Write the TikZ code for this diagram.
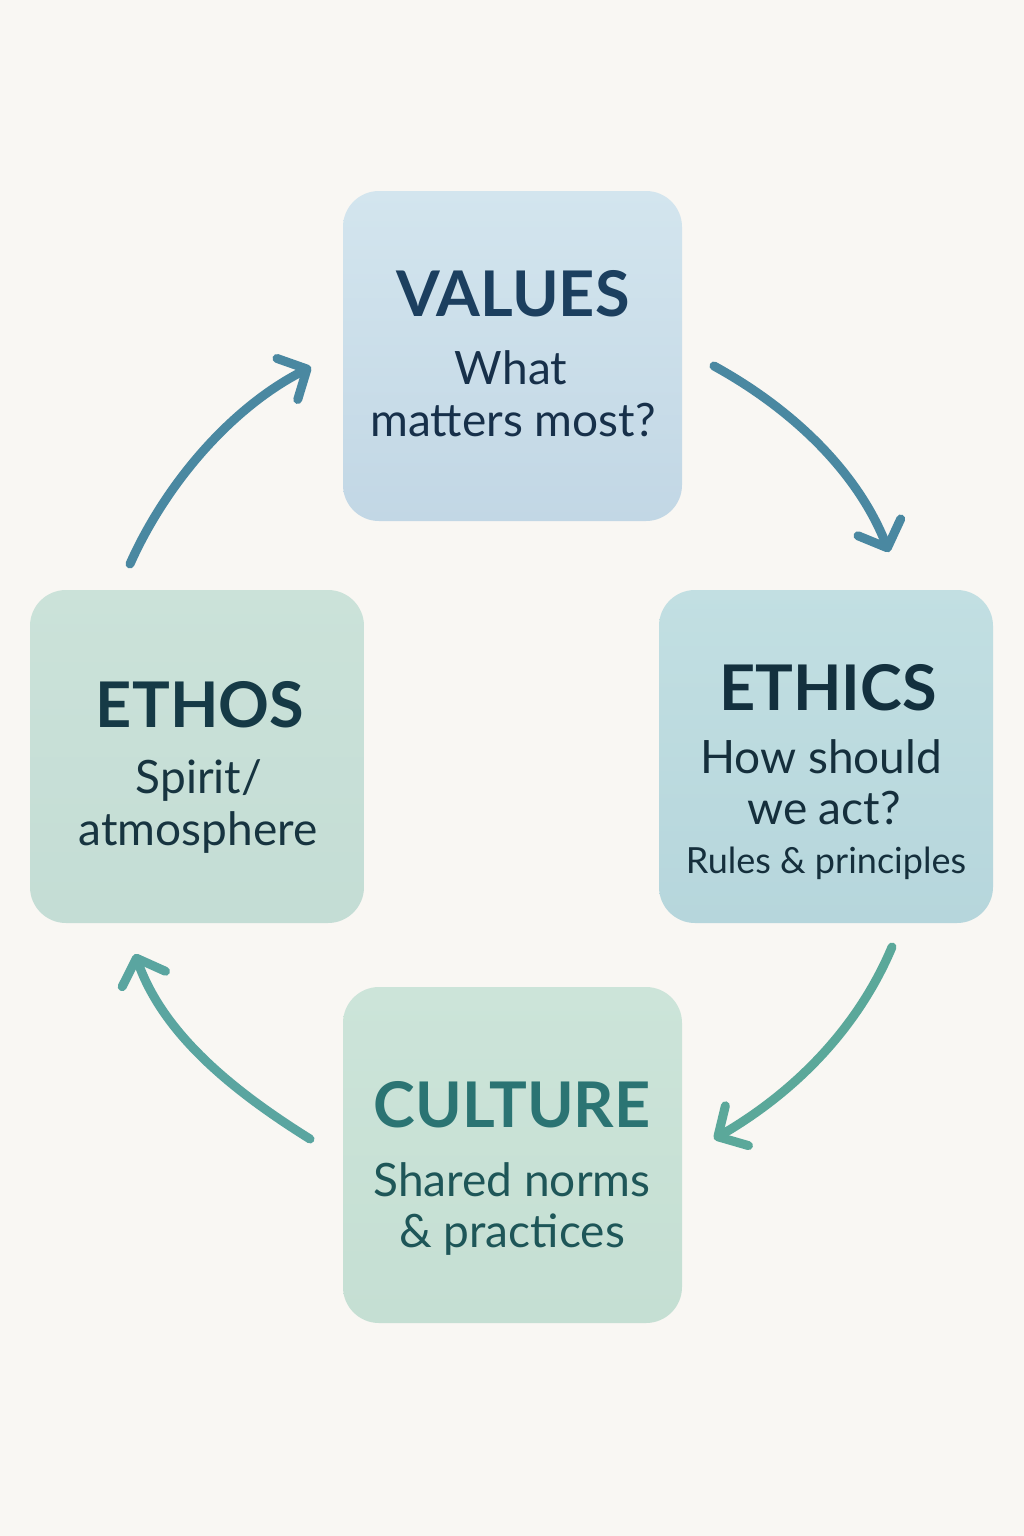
\documentclass[tikz,border=0pt]{standalone}
\usepackage{fontspec}
\setmainfont{Lato}
\usetikzlibrary{arrows.meta}
\definecolor{bg}{HTML}{F9F7F3}
\definecolor{valtop}{HTML}{D3E5EE}
\definecolor{valbot}{HTML}{C2D7E5}
\definecolor{valttl}{HTML}{1C3F5F}
\definecolor{valsub}{HTML}{17304A}
\definecolor{ethtop}{HTML}{C2DFE2}
\definecolor{ethbot}{HTML}{B6D6DC}
\definecolor{ethttl}{HTML}{13303E}
\definecolor{ethsub}{HTML}{152F3C}
\definecolor{ostop}{HTML}{CBE2D9}
\definecolor{osbot}{HTML}{C4DDD5}
\definecolor{osttl}{HTML}{163A46}
\definecolor{ossub}{HTML}{173440}
\definecolor{cutop}{HTML}{CCE4D9}
\definecolor{cubot}{HTML}{C5DFD3}
\definecolor{cuttl}{HTML}{2B7473}
\definecolor{cusub}{HTML}{1E5658}
\definecolor{arrblue}{HTML}{4A88A1}
\definecolor{arrgreen}{HTML}{5BA89A}
\definecolor{arrteal}{HTML}{5AA5A0}
\tikzset{
  box/.style={rounded corners=36pt, inner sep=0pt, draw=none, minimum width=336pt, minimum height=332pt},
  ttl/.style={font=\fontsize{63}{63}\selectfont\bfseries, inner sep=0pt, anchor=base},
  sub/.style={font=\fontsize{46}{46}\selectfont, inner sep=0pt, anchor=base},
  small/.style={font=\fontsize{36}{36}\selectfont, inner sep=0pt, anchor=base},
  arr/.style={line width=9pt, line cap=round, line join=round, -{Straight Barb[length=22pt,width=46pt,round]}}
}
\begin{document}
\begin{tikzpicture}[x=1pt,y=-1pt]
\fill[bg] (0,0) rectangle (1024,1536);
\useasboundingbox (0,0) rectangle (1024,1536);

% boxes
\node[box, top color=valtop, bottom color=valbot, minimum width=339pt, minimum height=330pt] (values) at (512.5,356) {};
\node[box, top color=ethtop, bottom color=ethbot, minimum width=334pt, minimum height=333pt] (ethics) at (826,756.5) {};
\node[box, top color=ostop, bottom color=osbot, minimum width=334pt, minimum height=333pt] (ethos) at (197,756.5) {};
\node[box, top color=cutop, bottom color=cubot, minimum width=339pt, minimum height=336pt] (culture) at (512.5,1155) {};

% texts
\node[ttl, text=valttl] (vt) at (513,316) {VALUES};
\node[sub, text=valsub] (v1) at (511,384) {What};
\node[sub, text=valsub] (v2) at (513,436) {matters most?};

\node[ttl, text=ethttl] (et) at (828,710) {ETHICS};
\node[sub, text=ethsub] (e1) at (821,773) {How should};
\node[sub, text=ethsub] (e2) at (824,824) {we act?};
\node[small, text=ethsub] (e3) at (826,873) {Rules \& principles};

\node[ttl, text=osttl] (ot) at (200,727) {ETHOS};
\node[sub, text=ossub] (o1) at (199,793) {Spirit/};
\node[sub, text=ossub] (o2) at (198,845) {atmosphere};

\node[ttl, text=cuttl] (ct) at (512,1127) {CULTURE};
\node[sub, text=cusub] (c1) at (512,1196) {Shared norms};
\node[sub, text=cusub] (c2) at (512,1247) {\& practices};

% arrows
\coordinate (a1s) at (714,366);  \coordinate (a1e) at (889,552);
\coordinate (a2s) at (892,947);  \coordinate (a2e) at (714,1139);
\coordinate (a3s) at (310,1139); \coordinate (a3e) at (135,954);
\coordinate (a4s) at (130,564);  \coordinate (a4e) at (311,367);

\draw[arr, arrblue]  (a1s) .. controls (794,410) and (858,473) .. (a1e);
\draw[arr, arrgreen] (a2s) .. controls (858,1028) and (795,1092) .. (a2e);
\draw[arr, arrteal]  (a3s) .. controls (230,1089) and (163,1033) .. (a3e);
\draw[arr, arrblue]  (a4s) .. controls (166,483) and (232,407) .. (a4e);
\end{tikzpicture}
\end{document}
